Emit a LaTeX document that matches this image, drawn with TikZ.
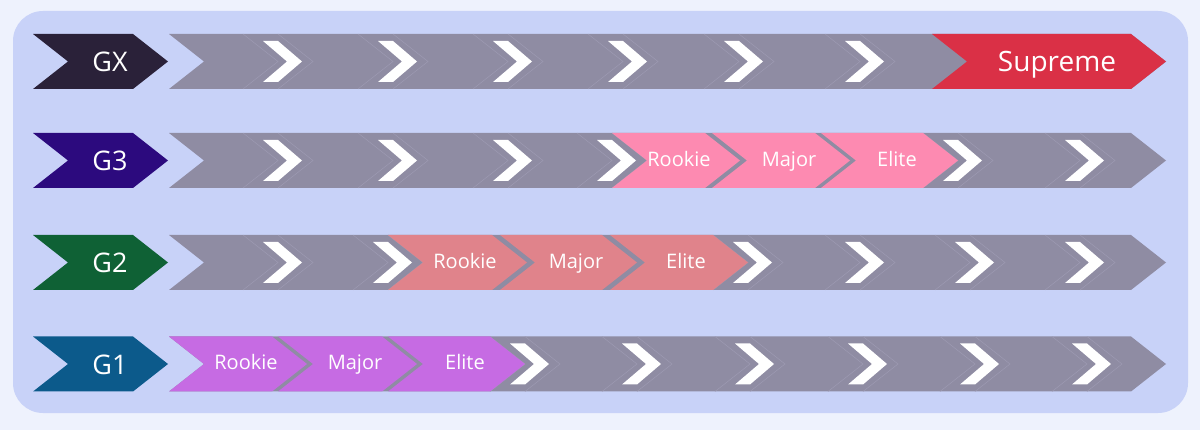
\documentclass[tikz,border=0pt]{standalone}
\usepackage{fontspec}
\setmainfont{Open Sans}
\definecolor{outerbg}{HTML}{EEF2FD}
\definecolor{panel}{HTML}{C8D2F8}
\definecolor{bar}{HTML}{8F8CA3}
\definecolor{barline}{HTML}{9D9AB2}
\definecolor{cGX}{HTML}{2A2139}
\definecolor{cG3}{HTML}{2C0A7E}
\definecolor{cG2}{HTML}{0F6135}
\definecolor{cG1}{HTML}{0C5A8B}
\definecolor{supreme}{HTML}{DA3046}
\definecolor{pinkG3}{HTML}{FD8AB1}
\definecolor{salmonG2}{HTML}{E0838B}
\definecolor{violetG1}{HTML}{C66BE3}
% #1 left x, #2 right x (top), #3 centre y, #4 colour
\newcommand\chevshape[4]{%
  \fill[#4] (#1,#3-27.5) -- (#2,#3-27.5) -- (#2+35,#3) -- (#2,#3+27.5)
    -- (#1,#3+27.5) -- (#1+35,#3) -- cycle;}
% white arrow mark: #1 left x, #2 centre y
\newcommand\whitemark[2]{%
  \draw[barline,line width=0.5pt] (#1-20,#2-27.5) -- (#1+15,#2) -- (#1-20,#2+27.5);
  \draw[barline,line width=0.5pt] (#1+15,#2-27.5) -- (#1+50,#2) -- (#1+15,#2+27.5);
  \fill[white] (#1,#2-20.5) -- (#1+15,#2-20.5) -- (#1+39,#2) -- (#1+15,#2+20.5)
    -- (#1,#2+20.5) -- (#1+24,#2) -- cycle;}
\tikzset{
  lbl/.style={text=white,font=\fontsize{27}{30}\selectfont,inner sep=0pt,text height=19.3pt,text depth=0pt},
  stage/.style={text=white,font=\fontsize{20}{24}\selectfont,inner sep=0pt,text height=14.3pt,text depth=0pt},
  top/.style={text=white,font=\fontsize{28}{32}\selectfont,inner sep=0pt,text height=20pt,text depth=0pt}
}
\begin{document}
\begin{tikzpicture}[x=1pt,y=-1pt]
\fill[outerbg] (0,0) rectangle (1200,430);
\useasboundingbox (0,0) rectangle (1200,430);
\fill[panel,rounded corners=30pt] (13,11) rectangle (1188,413);

% ---------- Row GX ----------
\chevshape{33}{133}{61.5}{cGX}
\chevshape{169}{1131}{61.5}{bar}
\foreach \x in {263,378,493,608,724,845} {\whitemark{\x}{61.5}}
\chevshape{932}{1131}{61.5}{supreme}
\node[lbl] (gx) at (110,62) {GX};
\node[top] (supr) at (1057,61.5) {Supreme};

% ---------- Row G3 ----------
\chevshape{33}{133}{160.5}{cG3}
\chevshape{169}{1131}{160.5}{bar}
\foreach \x in {263,378,493,597,943,1065} {\whitemark{\x}{160.5}}
\chevshape{612}{705}{160.5}{pinkG3}
\chevshape{712}{815}{160.5}{pinkG3}
\chevshape{821}{923}{160.5}{pinkG3}
\node[lbl] (g3) at (110,161) {G3};
\node[stage] (g3r) at (679,159) {Rookie};
\node[stage] (g3m) at (789,159) {Major};
\node[stage] (g3e) at (897,159) {Elite};

% ---------- Row G2 ----------
\chevshape{33}{133}{262.5}{cG2}
\chevshape{169}{1131}{262.5}{bar}
\foreach \x in {263,373,733,845,955,1065} {\whitemark{\x}{262.5}}
\chevshape{388}{492}{262.5}{salmonG2}
\chevshape{500}{602}{262.5}{salmonG2}
\chevshape{610}{713}{262.5}{salmonG2}
\node[lbl] (g2) at (110,263) {G2};
\node[stage] (g2r) at (465,261) {Rookie};
\node[stage] (g2m) at (576,261) {Major};
\node[stage] (g2e) at (686,261) {Elite};

% ---------- Row G1 ----------
\chevshape{33}{133}{364}{cG1}
\chevshape{169}{1131}{364}{bar}
\foreach \x in {510,622,735,848,960,1072} {\whitemark{\x}{364}}
\chevshape{169}{272}{364}{violetG1}
\chevshape{278}{382}{364}{violetG1}
\chevshape{388}{490}{364}{violetG1}
\node[lbl] (g1) at (110,364.5) {G1};
\node[stage] (g1r) at (246,362.5) {Rookie};
\node[stage] (g1m) at (355,362.5) {Major};
\node[stage] (g1e) at (465,362.5) {Elite};
\end{tikzpicture}
\end{document}
